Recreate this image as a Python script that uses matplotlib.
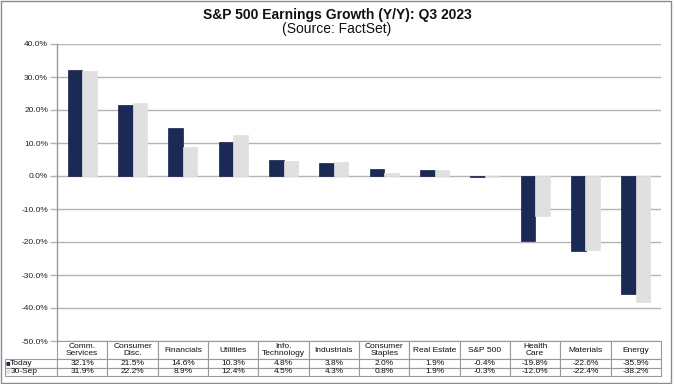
import matplotlib
matplotlib.use("Agg")
import matplotlib.pyplot as plt
import numpy as np
from matplotlib.patches import Rectangle
from matplotlib.table import Table

plt.rcParams['font.family'] = ['Liberation Sans', 'DejaVu Sans']
plt.rcParams['axes.unicode_minus'] = False

categories = ["Comm.\nServices", "Consumer\nDisc.", "Financials", "Utilities",
              "Info.\nTechnology", "Industrials", "Consumer\nStaples", "Real Estate",
              "S&P 500", "Health\nCare", "Materials", "Energy"]
today = [32.1, 21.5, 14.6, 10.3, 4.8, 3.8, 2.0, 1.9, -0.4, -19.8, -22.6, -35.9]
sep30 = [31.9, 22.2, 8.9, 12.4, 4.5, 4.3, 0.8, 1.9, -0.3, -12.0, -22.4, -38.2]
series_labels = ["Today", "30-Sep"]
yticks = [40, 30, 20, 10, 0, -10, -20, -30, -40, -50]

navy = "#1b2a55"
lgray = "#e0e0e0"
grid_c = "#b4b4b4"
line_c = "#9a9a9a"

W, H = 674, 384
AX_L, AX_R, AX_T, AX_B = 57, 661, 44, 341
AW, AH = AX_R - AX_L, AX_B - AX_T
fig = plt.figure(figsize=(W / 100, H / 100), dpi=100)
ax = fig.add_axes([AX_L / W, (H - AX_B) / H, AW / W, AH / H])

x = np.arange(len(categories))
bw = 0.285
ax.bar(x - bw / 2, today, width=bw, color=navy, edgecolor="#14204a", linewidth=0.5, zorder=3)
ax.bar(x + bw / 2, sep30, width=bw, color=lgray, edgecolor=lgray, linewidth=0.5, zorder=3)

ax.set_xlim(-0.5, len(categories) - 0.5)
ax.set_ylim(-50, 40)
ax.set_yticks(yticks)
ax.set_yticklabels([f"{v:.1f}%" for v in yticks], fontsize=6, color="#222222")
ax.set_xticks([])
ax.yaxis.grid(True, color=grid_c, linewidth=1.0, zorder=0)
ax.tick_params(axis='y', length=5, width=1.0, color=grid_c, pad=1.5)
for s in ["top", "right", "bottom"]:
    ax.spines[s].set_visible(False)
ax.spines["left"].set_color(line_c)
ax.spines["left"].set_linewidth(1.0)

# data table under the plot
rl_w = 52.0 / AW
col_w = 1.0 / len(categories)
h_head, h_row = 18.0 / AH, 8.6 / AH
tbl_h = h_head + 2 * h_row
tbl = Table(ax, bbox=[-rl_w, -tbl_h, 1 + rl_w, tbl_h])
for j, cat in enumerate(categories):
    tbl.add_cell(0, j + 1, col_w, h_head, text=cat, loc='center')
for i, (lab, vals) in enumerate(zip(series_labels, [today, sep30])):
    tbl.add_cell(i + 1, 0, rl_w, h_row, text=lab, loc='left')
    for j, v in enumerate(vals):
        tbl.add_cell(i + 1, j + 1, col_w, h_row, text=f"{v:.1f}%", loc='center')
tbl.auto_set_font_size(False)
tbl.set_fontsize(6)
for (r, c), cell in tbl.get_celld().items():
    cell.set_edgecolor(line_c)
    cell.set_linewidth(0.8)
    cell.PAD = 0.08 if c > 0 else 0.1
    t = cell.get_text()
    t.set_color("#111111")
    t.set_linespacing(0.95)
ax.add_table(tbl)

# legend squares in row label cells
ax.text((7.5 - AX_L) / AW, -(h_head + h_row / 2), "■", color=navy, fontsize=5.5,
        transform=ax.transAxes, ha='center', va='center', clip_on=False)
ax.text((7.5 - AX_L) / AW, -(h_head + 1.5 * h_row), "■", color=lgray, fontsize=5.5,
        transform=ax.transAxes, ha='center', va='center', clip_on=False)

fig.text(337 / W, 1 - 15 / H, "S&P 500 Earnings Growth (Y/Y): Q3 2023", ha='center', va='center',
         fontsize=10, fontweight='bold', color="#111111")
fig.text(337 / W, 1 - 29 / H, "(Source: FactSet)", ha='center', va='center',
         fontsize=10, color="#111111")

fig.patches.append(Rectangle((1 / W, 1 / H), 670 / W, 382 / H, transform=fig.transFigure,
                             fill=False, edgecolor="#8c8c8c", linewidth=1.0))

fig.savefig("out.png", dpi=100)
